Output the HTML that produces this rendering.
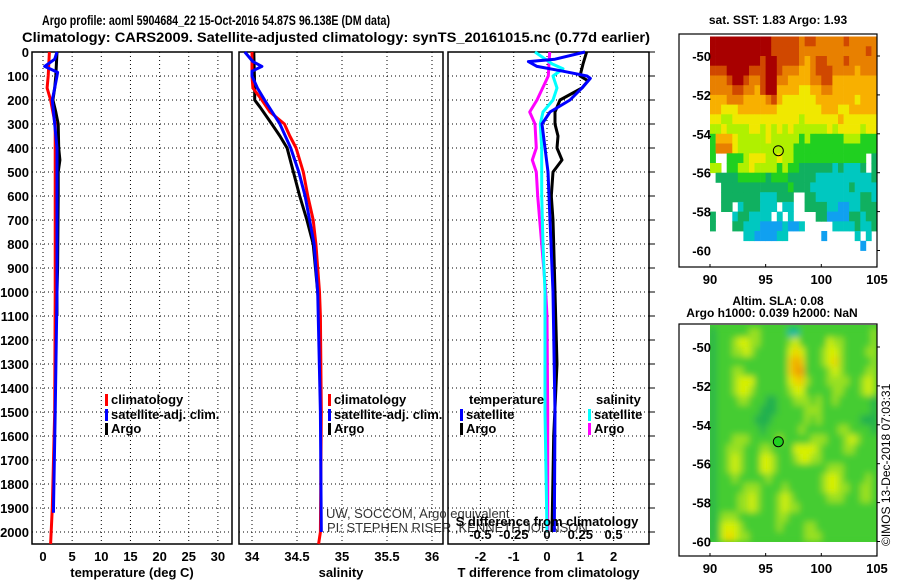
<!DOCTYPE html>
<html><head><meta charset="utf-8"><style>
html,body{margin:0;padding:0;background:#fff;width:900px;height:580px;overflow:hidden}
svg{display:block;font-family:"Liberation Sans",sans-serif;font-weight:bold}
</style></head><body>
<svg id="chart" width="900" height="580" viewBox="0 0 900 580" xmlns="http://www.w3.org/2000/svg">
<defs>
<filter id="blur" x="-5%" y="-5%" width="110%" height="110%"><feGaussianBlur stdDeviation="3.5"/></filter>
<clipPath id="slaClip"><rect x="710" y="325" width="167" height="217"/></clipPath>
</defs>
<text x="42" y="25" font-size="14" textLength="348" lengthAdjust="spacingAndGlyphs">Argo profile: aoml 5904684_22 15-Oct-2016 54.87S 96.138E (DM data)</text>
<text x="22" y="42" font-size="14" textLength="628" lengthAdjust="spacingAndGlyphs">Climatology: CARS2009. Satellite-adjusted climatology: synTS_20161015.nc (0.77d earlier)</text>
<g id="g"></g>
</svg>
<script>
// ---------- data ----------
const depthTicks=[0,100,200,300,400,500,600,700,800,900,1000,1100,1200,1300,1400,1500,1600,1700,1800,1900,2000];
const tTicks=[0,5,10,15,20,25,30];
const sTicks=[34,34.5,35,35.5,36];
const sTickLabels=["34","34.5","35","35.5","36"];
const dTTicks=[-2,-1,0,1,2];
const dSTicks=[-0.5,-0.25,0,0.25,0.5];
const dSTickLabels=["-0.5","-0.25","0","0.25","0.5"];

const tClimDepth=[0,50,100,150,200,250,300,500,1000,1500,1900,2050];
const tClimVal=[1.1,1.0,0.9,0.7,1.3,1.7,2.1,2.1,2.1,2.0,1.6,1.3];
const tSatDepth=[0,30,60,85,100,150,200,300,400,1000,1500,1900,1920];
const tSatVal=[2.4,2.0,0.3,2.5,2.4,2.0,1.6,2.0,2.4,2.4,2.1,1.8,1.8];
const tArgoDepth=[0,50,100,150,200,250,300,400,450,500,600,900,1000,1100];
const tArgoVal=[2.4,2.3,2.2,2.0,1.7,2.2,2.6,2.7,2.9,2.6,2.6,2.5,2.4,2.4];

const sClimDepth=[0,100,150,200,250,300,350,400,500,600,700,800,900,1000,1100,1500,2000,2050];
const sClimVal=[34.0,34.0,34.01,34.11,34.2,34.36,34.42,34.49,34.57,34.62,34.68,34.71,34.73,34.75,34.76,34.77,34.76,34.74];
const sSatDepth=[0,40,60,80,100,150,200,300,400,500,600,700,800,1000,1500,2000];
const sSatVal=[33.92,34.01,34.11,34.0,34.0,34.06,34.14,34.31,34.43,34.52,34.59,34.64,34.69,34.73,34.76,34.77];
const sArgoDepth=[0,150,200,230,300,350,400,500,600,700,800,1000,1100];
const sArgoVal=[34.02,34.03,34.03,34.09,34.22,34.31,34.39,34.46,34.53,34.61,34.68,34.73,34.75];

const dTArgoDepth=[0,50,100,120,150,200,250,300,350,400,450,500,600,700,800,1000,1300,1600,2000];
const dTArgoVal=[1.19,1.08,0.99,1.23,1.05,0.39,0.24,0.24,0.33,0.3,0.45,0.18,0.13,0.18,0.2,0.24,0.3,0.2,0.15];
const dTSatDepth=[0,30,40,60,80,100,110,150,200,250,300,400,500,700,1000,1500,2000];
const dTSatVal=[1.14,0.24,-0.56,-0.3,0.48,1.2,1.3,1.05,0.69,0.09,-0.15,-0.06,0.03,0.09,0.18,0.24,0.22];
const dSArgoDepth=[0,100,200,250,300,400,450,500,600,700,800,1000,1100,1500,2000];
const dSArgoVal=[0.02,0.01,-0.075,-0.13,-0.09,-0.08,-0.11,-0.08,-0.07,-0.055,-0.04,-0.01,0.0,0.005,0.005];
const dSSatDepth=[0,50,70,100,150,200,250,300,400,600,800,1000,1500,2000];
const dSSatVal=[-0.09,0.04,0.12,0.045,0.075,0.045,-0.03,-0.05,-0.04,-0.04,-0.03,-0.015,-0.015,0.0];

// SST map: rows from lat -49 downward in 0.5 deg, cols from lon 90 in 0.5 deg; '.' = no data
const sstRows=[
"999999999998888878877777877777",
"999999999998888877777777777787",
"999999999899888876788777877777",
"888999988899877766788877776777",
"777899877899776666778866666666",
"777788776899666655667766666666",
"666777666678655555566666665666",
"665556666666555555556665566666",
"554455555555555545555556555555",
"445444455454545444444545555455",
"366654444454444434333333444333",
"377754444444444333333333333333",
"3..3334555445443333333333333.2",
"44.3344544443433222222121112.2",
".22223333323332222211111111112",
"..2222222222223222111111121111",
"..2222222111222..2211111111221",
"..22.1222111.11..2222110011222",
"2...1221111.1.1....22000022122",
"2...2211100001001.....11112112",
"......11000011......0.....1.1.",
"...........................0.."];
const sstColors=["#10a0f0","#00c8c0","#10b060","#20d020","#b0f000","#f0e800","#f8b000","#e88000","#d04800","#a80000"];

const slaRows=[
"122222233222220022222222222223",
"122234433222223422222433222223",
"122233432222224542223443222233",
"122222222222225652223453222223",
"122233222222225662222343222233",
"122234442222224553222333322343",
"122234432222223442222233222343",
"122223322211222333232232222221",
"122222222111222223332222222221",
"122222221112222223232222222111",
"122222222122222232222223322221",
"122233322222322222333222343222",
"122333222332222444432222332222",
"122343222443222344332222222222",
"122343222443222222222333222222",
"122232222232222222223443222232",
"122222333222232222223443322332",
"122223343222343222222333222332",
"122223343222343322222222222222",
"123332222222332222222222222222",
"124443222222322223322222222222",
"124543322222222223332222222222"];
const slaColors=["#10b8a0","#20b050","#44cc30","#99e020","#d8f000","#f0d000","#f0a000"];

// ---------- helpers ----------
const NS="http://www.w3.org/2000/svg";
const G=document.getElementById('g');
function mk(tag,attrs,parent){const e=document.createElementNS(NS,tag);for(const k in attrs)e.setAttribute(k,attrs[k]);(parent||G).appendChild(e);return e;}
const yD=d=>52+d*0.24;
const BOT=544;
const xT=t=>43+5.83*t;
const xS=s=>252+90*(s-34);
const xDT=v=>547+33.3*v;
const xDS=v=>547+133.2*v;

function panel(name,x0,x1,ticks,xf,labels,title,showY){
  for(const d of depthTicks){
    const l=mk('line',{x1:x0,x2:x1,y1:yD(d),y2:yD(d),stroke:'#000','stroke-width':1,'stroke-dasharray':'1,3'});
    
    
    if(showY){const t=mk('text',{x:x0-3,y:yD(d)+5,'font-size':13,'text-anchor':'end'});t.textContent=d;
      
      }
  }
  ticks.forEach((v,i)=>{
    const x=xf(v);
    const l=mk('line',{x1:x,x2:x,y1:52,y2:BOT,stroke:'#000','stroke-width':1,'stroke-dasharray':'1,3'});
    
    
    const t=mk('text',{x:x,y:561,'font-size':13,'text-anchor':'middle'});t.textContent=labels[i];
    
    
  });
  const r=mk('rect',{x:x0,y:52,width:x1-x0,height:BOT-52,fill:'none',stroke:'#000','stroke-width':1.5});
  
  
  const t=mk('text',{x:(x0+x1)/2,y:577,'font-size':13,'text-anchor':'middle'});t.textContent=title;
  
  
}
function line(name,depths,vals,xf,color,w){
  const pts=depths.map((d,i)=>xf(vals[i]).toFixed(1)+','+yD(d).toFixed(1)).join(' ');
  const p=mk('polyline',{points:pts,fill:'none',stroke:color,'stroke-width':w,'stroke-linejoin':'round'});
  
  
}
function legend(name,x,y,color,label){
  const r=mk('rect',{x:x,y:y-10,width:3,height:12,fill:color});
  
  
  const t=mk('text',{x:x+6,y:y,'font-size':13});t.textContent=label;
  
  
}

// panel 1 temperature
panel('temperature-panel',32,232,tTicks,xT,tTicks.map(String),'temperature (deg C)',true);
line('temp-argo-line',tArgoDepth,tArgoVal,xT,'#000',3);
line('temp-climatology-line',tClimDepth,tClimVal,xT,'#f00',3);
line('temp-satellite-line',tSatDepth,tSatVal,xT,'#00f',3);
legend('legend-climatology',105,404,'#f00','climatology');
legend('legend-satellite-adj',105,419,'#00f','satellite-adj. clim.');
legend('legend-argo',105,433,'#000','Argo');

// panel 2 salinity
panel('salinity-panel',239,443,sTicks,xS,sTickLabels,'salinity',false);
line('sal-argo-line',sArgoDepth,sArgoVal,xS,'#000',3);
line('sal-climatology-line',sClimDepth,sClimVal,xS,'#f00',3);
line('sal-satellite-line',sSatDepth,sSatVal,xS,'#00f',3);
legend('legend2-climatology',328,404,'#f00','climatology');
legend('legend2-satellite-adj',328,419,'#00f','satellite-adj. clim.');
legend('legend2-argo',328,433,'#000','Argo');
(()=>{const a=mk('text',{x:326,y:518,'font-size':13,'font-weight':'normal',fill:'#333'});a.textContent='UW, SOCCOM, Argo equivalent';


const b=mk('text',{x:327,y:532,'font-size':13,'font-weight':'normal',fill:'#333'});b.textContent='PI: STEPHEN RISER ,KENNETH JOHNSON';

})();

// panel 3 differences
panel('difference-panel',448,649,dTTicks,xDT,dTTicks.map(String),'T difference from climatology',false);
for(const d of depthTicks){const l=mk('line',{x1:649,x2:655,y1:yD(d),y2:yD(d),stroke:'#000','stroke-width':1});
  
  }
line('dS-argo-line',dSArgoDepth,dSArgoVal,xDS,'#f0f',3);
line('dT-argo-line',dTArgoDepth,dTArgoVal,xDT,'#000',3);
line('dS-satellite-line',dSSatDepth,dSSatVal,xDS,'#0ff',3);
line('dT-satellite-line',dTSatDepth,dTSatVal,xDT,'#00f',3);
dSTicks.forEach((v,i)=>{const t=mk('text',{x:xDS(v),y:539,'font-size':13,'text-anchor':'middle'});t.textContent=dSTickLabels[i];
  
  });
(()=>{const t=mk('text',{x:547,y:526,'font-size':13,'text-anchor':'middle'});t.textContent='S difference from climatology';


const a=mk('text',{x:469,y:404,'font-size':13});a.textContent='temperature';


const b=mk('text',{x:596,y:404,'font-size':13});b.textContent='salinity';

})();
legend('legend3-t-satellite',460,419,'#00f','satellite');
legend('legend3-t-argo',460,433,'#000','Argo');
legend('legend3-s-satellite',588,419,'#0ff','satellite');
legend('legend3-s-argo',588,433,'#f0f','Argo');

// maps
function map(name,top,bot,lat50,rows,colors,title1,title2,dotFill,smooth){
  const x0=679,x1=877,xl=l=>710+(l-90)*11.13,yl=la=>lat50+(-50-la)*19.45;
  let parent=G;
  if(smooth){const outer=mk('g',{'clip-path':'url(#slaClip)'});
    
    
    mk('rect',{x:700,y:top,width:180,height:bot-top,fill:colors[2]},outer);
    parent=mk('g',{filter:'url(#blur)'},outer);}
  rows.forEach((row,i)=>{for(let j=0;j<30;j++){const c=row[j];if(c===undefined||c==='.')continue;
    const r=mk('rect',{x:xl(90+j*0.5).toFixed(1),y:yl(-49-i*0.5).toFixed(1),width:5.9,height:10.1,fill:colors[+c]},parent);
    
    }});
  if(smooth){const w=mk('rect',{x:x0+1,y:top+1,width:710-x0-1,height:bot-top-2,fill:'#fff'});
    
    
    const w2=mk('rect',{x:710,y:542,width:167,height:bot-542-1,fill:'#fff'});
    
    }
  const f=mk('rect',{x:x0,y:top,width:x1-x0,height:bot-top,fill:'none',stroke:'#000','stroke-width':1.2});
  
  
  [90,95,100,105].forEach(l=>{const t=mk('text',{x:xl(l),y:bot+17,'font-size':13,'text-anchor':'middle'});t.textContent=l;
    
    
    mk('line',{x1:xl(l),x2:xl(l),y1:bot,y2:bot-3,stroke:'#000'});});
  [-50,-52,-54,-56,-58,-60].forEach(la=>{const t=mk('text',{x:x0+32,y:yl(la)+5,'font-size':13,'text-anchor':'end'});t.textContent=la;
    
    
    mk('line',{x1:x1,x2:x1+3,y1:yl(la),y2:yl(la),stroke:'#000'});});
  const c=mk('circle',{cx:xl(96.138),cy:yl(-54.87),r:5,fill:dotFill,stroke:'#000','stroke-width':1});
  
  
  const t=mk('text',{x:778,y:title2?top-19:top-10,'font-size':12,'text-anchor':'middle'});t.textContent=title1;
  
  
  if(title2){const t2=mk('text',{x:772,y:top-7,'font-size':12,'text-anchor':'middle'});t2.textContent=title2;
    
    }
}
map('sst-map',34,267,56,sstRows,sstColors,'sat. SST: 1.83 Argo: 1.93',null,'none',false);
map('sla-map',324,556,347,slaRows,slaColors,'Altim. SLA: 0.08','Argo h1000: 0.039 h2000: NaN','#20d020',true);
(()=>{const t=mk('text',{x:0,y:0,'font-size':12,'font-weight':'normal',transform:'translate(890,546) rotate(-90)'});t.textContent='©IMOS 13-Dec-2018 07:03:31';

})();
</script>
</body></html>
